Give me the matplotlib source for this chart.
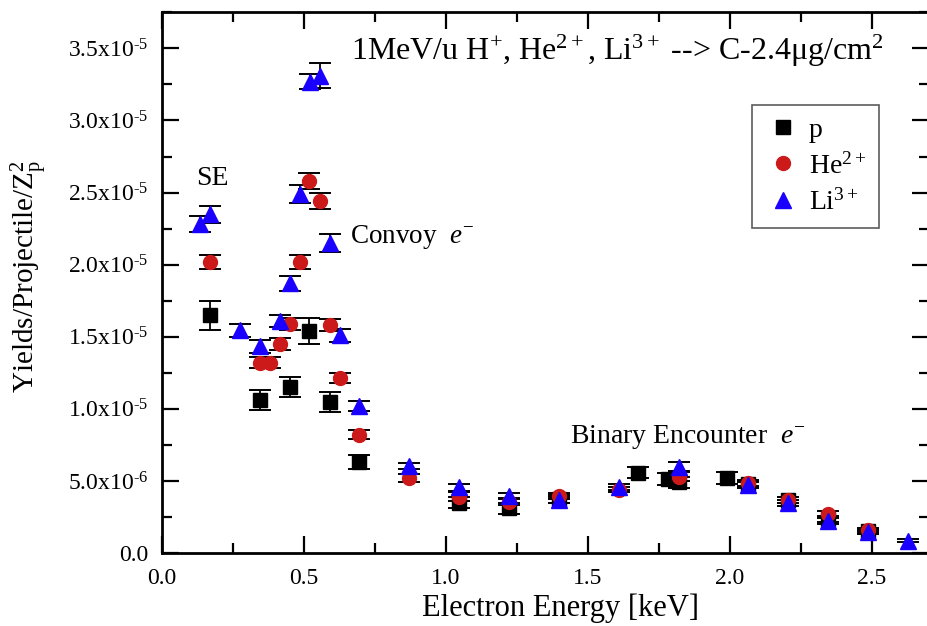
import numpy as np
import matplotlib
matplotlib.use("Agg")
import matplotlib.pyplot as plt
from matplotlib.lines import Line2D
from matplotlib.ticker import AutoMinorLocator

plt.rcParams['font.family'] = ['Liberation Serif', 'DejaVu Serif']
plt.rcParams['mathtext.fontset'] = 'custom'
plt.rcParams['mathtext.rm'] = 'Liberation Serif'
plt.rcParams['mathtext.it'] = 'Liberation Serif:italic'
plt.rcParams['mathtext.bf'] = 'Liberation Serif:bold'

# electron energy [keV] and yields (units of 1e-6) per projectile species
p_energy = [0.169, 0.345, 0.451, 0.519, 0.592, 0.695, 1.046, 1.222, 1.398,
            1.677, 1.783, 1.820, 1.990, 2.064, 2.205, 2.346, 2.487]
p_yield = [16.5, 10.6, 11.5, 15.4, 10.5, 6.3, 3.5, 3.1, 3.75,
           5.58, 5.12, 4.9, 5.19, 4.8, 3.65, 2.35, 1.5]
p_err = [1.0, 0.7, 0.7, 0.9, 0.7, 0.5, 0.4, 0.4, 0.3,
         0.4, 0.4, 0.4, 0.4, 0.2, 0.2, 0.2, 0.15]

he_energy = [0.169, 0.345, 0.380, 0.415, 0.451, 0.486, 0.519, 0.556, 0.592,
             0.627, 0.695, 0.871, 1.046, 1.222, 1.398, 1.609, 1.820, 2.064,
             2.205, 2.346, 2.487]
he_yield = [20.2, 13.2, 13.2, 14.5, 15.9, 20.2, 25.8, 24.4, 15.8,
            12.15, 8.2, 5.2, 3.9, 3.55, 3.95, 4.4, 5.3, 4.88,
            3.68, 2.69, 1.6]
he_err = [0.5, 0.4, 0.4, 0.4, 0.4, 0.5, 0.55, 0.55, 0.4,
          0.35, 0.3, 0.25, 0.3, 0.25, 0.2, 0.2, 0.3, 0.2,
          0.2, 0.2, 0.15]

li_energy = [0.134, 0.169, 0.275, 0.345, 0.415, 0.451, 0.486, 0.521, 0.556,
             0.592, 0.627, 0.695, 0.871, 1.046, 1.222, 1.398, 1.609, 1.820,
             2.064, 2.205, 2.346, 2.487, 2.628]
li_yield = [22.8, 23.5, 15.45, 14.35, 16.1, 18.7, 24.9, 32.7, 33.1,
            21.5, 15.1, 10.2, 6.04, 4.55, 3.96, 3.7, 4.58, 6.0,
            4.72, 3.45, 2.22, 1.48, 0.85]
li_err = [0.55, 0.6, 0.45, 0.45, 0.4, 0.5, 0.6, 0.52, 0.87,
          0.6, 0.45, 0.35, 0.2, 0.25, 0.2, 0.2, 0.2, 0.3,
          0.2, 0.2, 0.2, 0.15, 0.1]

ytick_values = [0.0, 5e-6, 1.0e-5, 1.5e-5, 2.0e-5, 2.5e-5, 3.0e-5, 3.5e-5]
ytick_labels = ["0.0", r"5.0x10$^{\text{-}6}$", r"1.0x10$^{\text{-}5}$",
                r"1.5x10$^{\text{-}5}$", r"2.0x10$^{\text{-}5}$",
                r"2.5x10$^{\text{-}5}$", r"3.0x10$^{\text{-}5}$",
                r"3.5x10$^{\text{-}5}$"]
xtick_values = [0.0, 0.5, 1.0, 1.5, 2.0, 2.5]

fig = plt.figure(figsize=(9.27, 6.26), dpi=100)
ax = fig.add_axes([0.1748, 0.1166, 0.8272, 0.8637])

series = [
    (p_energy, p_yield, p_err, 's', 'black', 'p', 9.5),
    (he_energy, he_yield, he_err, 'o', '#cc1a1a', 'He$^{2+}$', 10),
    (li_energy, li_yield, li_err, '^', '#1a00ff', 'Li$^{3+}$', 11),
]
handles = []
for x, y, e, m, c, lab, ms in series:
    ax.errorbar(x, np.array(y) * 1e-6, yerr=np.array(e) * 1e-6, fmt=m,
                color=c, markersize=ms, markeredgecolor=c, ecolor='black',
                elinewidth=1.3, capsize=8, capthick=1.4)
    handles.append(Line2D([], [], linestyle='none', marker=m, color=c,
                          markersize=ms, label=lab))

ax.set_xlim(0, 2.7)
ax.set_ylim(0, 3.75e-5)
ax.set_xticks(xtick_values)
ax.set_yticks(ytick_values)
ax.set_yticklabels(ytick_labels)
ax.xaxis.set_minor_locator(AutoMinorLocator(2))
ax.yaxis.set_minor_locator(AutoMinorLocator(2))
ax.tick_params(which='both', direction='in', top=True, right=True,
               labelsize=17, width=1.6)
ax.tick_params(axis='y', pad=10)
ax.tick_params(axis='x', pad=11)
ax.tick_params(which='major', length=12)
ax.tick_params(which='minor', length=7)
for sp in ax.spines.values():
    sp.set_linewidth(2)

ax.set_xlabel("Electron Energy [keV]", fontsize=22)
ax.xaxis.set_label_coords(0.52, -0.075)
ax.set_ylabel("Yields/Projectile/Z$_\\mathrm{p}^2$", fontsize=21)
ax.yaxis.set_label_coords(-0.146, 0.512)

ax.text(0.666, 3.48e-5, "1MeV/u H$^{+}$, He$^{2+}$, Li$^{3+}$ --> C-2.4\u03bcg/cm$^{2}$",
        fontsize=23, va='center', ha='left')
ax.text(0.12, 2.6e-5, "SE", fontsize=20, va='center', ha='left')
ax.text(0.662, 2.19e-5, "Convoy  $\\mathit{e}^{-}$", fontsize=19.5, va='center', ha='left')
ax.text(1.437, 8.05e-6, "Binary Encounter  $\\mathit{e}^{-}$", fontsize=20,
        va='center', ha='left')

leg = ax.legend(handles=handles, loc='upper left',
                bbox_to_anchor=(0.7694, 0.8286), fontsize=20,
                frameon=True, fancybox=False, edgecolor='#333333',
                handletextpad=0.3, borderpad=0.45, labelspacing=0.35,
                handlelength=1.3, borderaxespad=0)
leg.get_frame().set_linewidth(1.2)

fig.savefig("out.png", dpi=100)
